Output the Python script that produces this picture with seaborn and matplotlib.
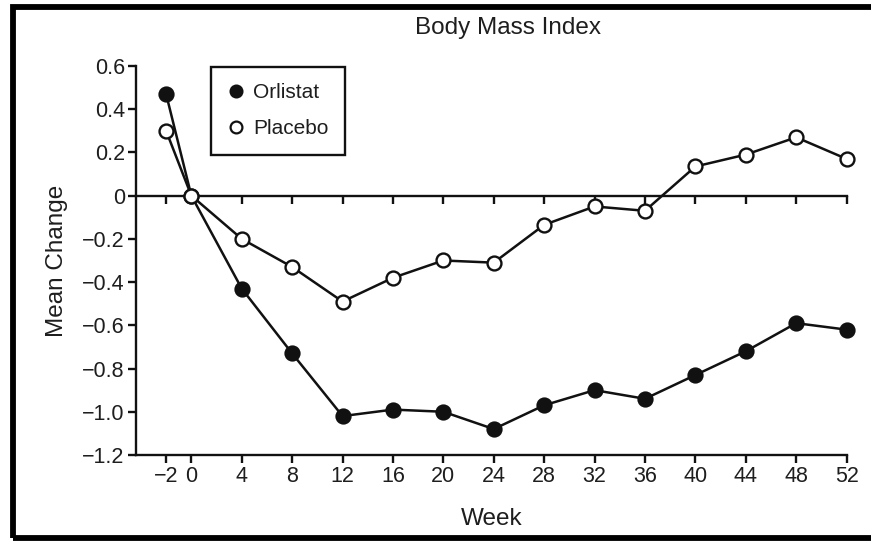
import numpy as np
import pandas as pd
import matplotlib
matplotlib.use("Agg")
import matplotlib.pyplot as plt
from matplotlib.lines import Line2D
from matplotlib.patches import Rectangle
import seaborn as sns

# Mean change in BMI by study week
weeks = [-2, 0, 4, 8, 12, 16, 20, 24, 28, 32, 36, 40, 44, 48, 52]
orlistat = [0.47, 0.0, -0.43, -0.73, -1.02, -0.99, -1.00, -1.08, -0.97, -0.90, -0.94, -0.83, -0.72, -0.59, -0.62]
placebo = [0.30, 0.0, -0.20, -0.33, -0.49, -0.38, -0.30, -0.31, -0.135, -0.05, -0.07, 0.135, 0.19, 0.27, 0.17]

x_tick_labels = ["\u22122", "0", "4", "8", "12", "16", "20", "24", "28", "32", "36", "40", "44", "48", "52"]
y_ticks = [0.6, 0.4, 0.2, 0.0, -0.2, -0.4, -0.6, -0.8, -1.0, -1.2]
y_tick_labels = ["0.6", "0.4", "0.2", "0", "\u22120.2", "\u22120.4", "\u22120.6", "\u22120.8", "\u22121.0", "\u22121.2"]

sns.set_theme(style="white")
plt.rcParams["font.family"] = ["Liberation Sans", "DejaVu Sans"]

fig = plt.figure(figsize=(8.71, 5.41), dpi=100)
ax = fig.add_axes([0.156, 0.159, 0.816, 0.719])

ink = "#111111"
text_ink = "#1e1e1e"
line_kw = dict(linewidth=1.8, markersize=10, markeredgewidth=1.7,
               markeredgecolor=ink, color=ink, marker="o", zorder=3,
               clip_on=False)
sns.lineplot(x=weeks, y=orlistat, ax=ax, markerfacecolor=ink, **line_kw)
sns.lineplot(x=weeks, y=placebo, ax=ax, markerfacecolor="white", **line_kw)

ax.set_xlim(-4.4, 52)
ax.set_ylim(-1.2, 0.6)
ax.set_xticks(weeks)
ax.set_xticklabels(x_tick_labels)
ax.set_yticks(y_ticks)
ax.set_yticklabels(y_tick_labels)

for side in ("top", "right"):
    ax.spines[side].set_visible(False)
for side in ("left", "bottom"):
    ax.spines[side].set_color(ink)
    ax.spines[side].set_linewidth(1.7)

ax.tick_params(axis="both", direction="out", length=6, width=1.7, color=ink,
               labelcolor=text_ink, labelsize=15.5, pad=2,
               bottom=True, left=True)

# zero reference line carrying the same week ticks
zero_axis = ax.secondary_xaxis(1.2 / 1.8)
zero_axis.set_alignment("bottom")
zero_axis.set_xticks(weeks)
zero_axis.tick_params(axis="x", direction="out", length=6, width=1.7, color=ink,
                      labelbottom=False, labeltop=False)
zero_axis.spines["bottom"].set_linewidth(1.7)
zero_axis.spines["bottom"].set_color(ink)

fig.text(508 / 871, 1 - 28 / 541, "Body Mass Index", fontsize=17.5,
         color=text_ink, ha="center", va="center")
ax.set_xlabel("Week", fontsize=17.5, color=text_ink, labelpad=15)
ax.set_ylabel("Mean Change", fontsize=17.5, color=text_ink, labelpad=10)

handles = [
    Line2D([], [], linestyle="none", marker="o", markersize=8.5,
           markerfacecolor=ink, markeredgecolor=ink, markeredgewidth=1.6),
    Line2D([], [], linestyle="none", marker="o", markersize=8.5,
           markerfacecolor="white", markeredgecolor=ink, markeredgewidth=1.6),
]
leg = ax.legend(handles, ["Orlistat", "Placebo"], loc="upper left",
                bbox_to_anchor=(0.105, 0.998), borderaxespad=0, fancybox=False,
                frameon=True, edgecolor=ink, framealpha=1, fontsize=15,
                handlelength=0.8, handletextpad=0.45, labelspacing=0.8,
                borderpad=0.8)
leg.get_frame().set_linewidth(1.7)
for t in leg.get_texts():
    t.set_color(text_ink)

# heavy outer frame
fig.add_artist(Rectangle((13 / 871, 1 - 538 / 541), 1.2, (538 - 6.5) / 541,
                         transform=fig.transFigure, fill=False,
                         linewidth=4.2, edgecolor="black", clip_on=False))

fig.savefig("out.png", dpi=100)
